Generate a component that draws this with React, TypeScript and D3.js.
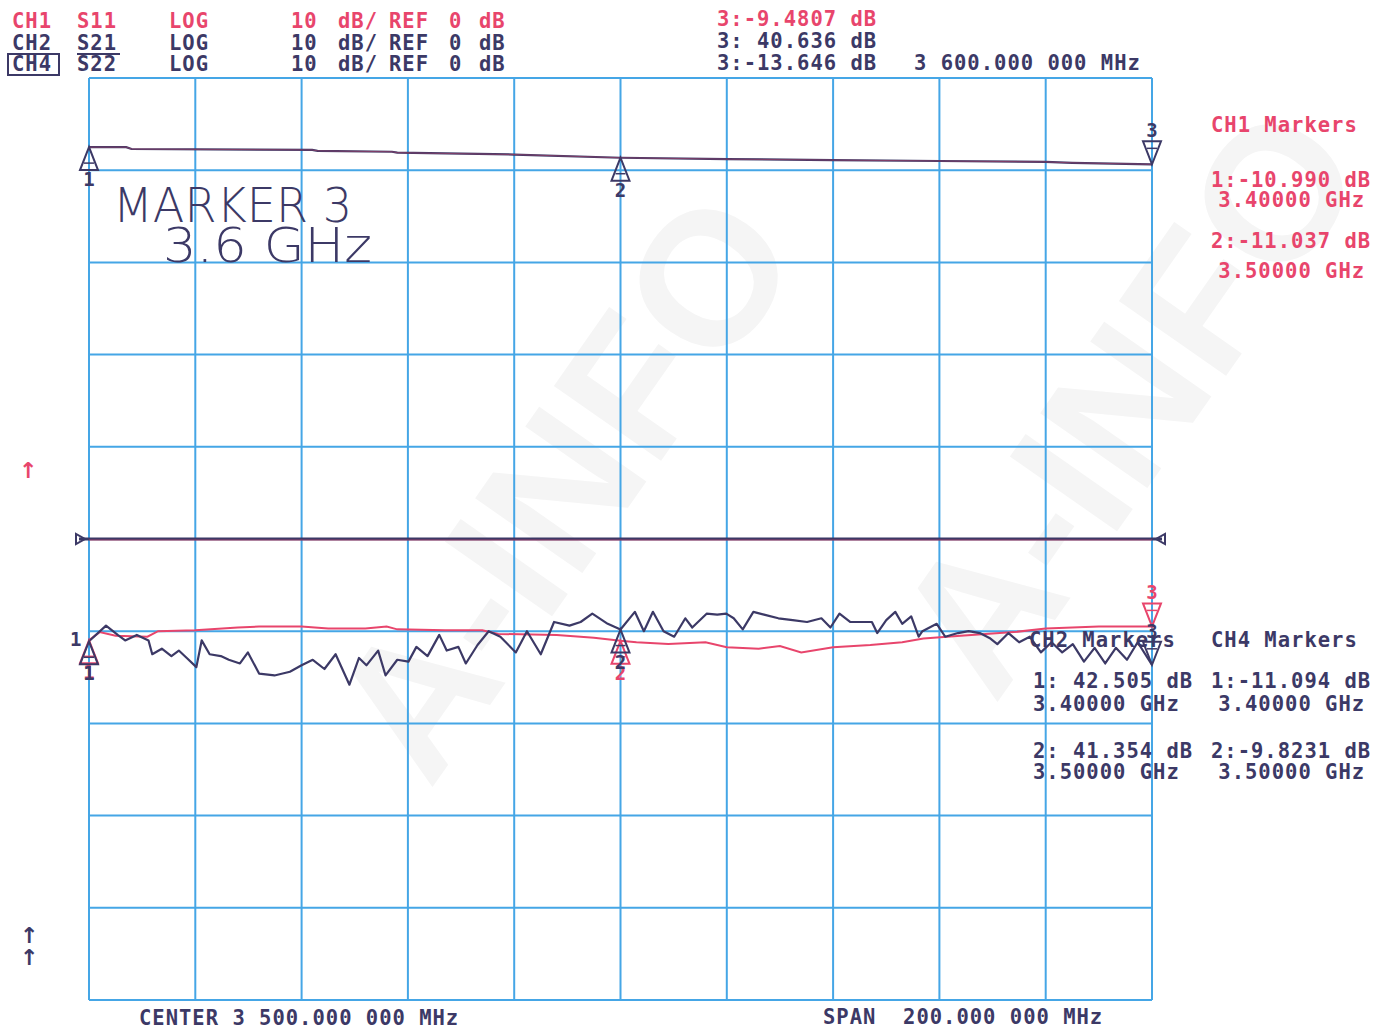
import * as d3 from 'd3';
import React from 'react';

// sweep: 3.4 .. 3.6 GHz, 10 dB/div, ref 0 dB at centre line
const startMHz = 3400;
const stopMHz = 3600;
const refDb = [-50, 50];

// CH2 S21 (upper trace)
const s21Freq = [3400, 3407, 3408, 3442, 3443, 3457, 3458, 3480, 3500, 3520, 3540, 3560, 3580, 3585, 3600];
const s21Db = [42.5, 42.5, 42.3, 42.2, 42.1, 42.0, 41.9, 41.7, 41.35, 41.2, 41.1, 41.0, 40.9, 40.8, 40.64];

// CH1 S11 (red)
const s11Freq = [3400, 3402, 3405, 3411, 3413, 3420, 3428, 3432, 3440, 3445, 3452, 3456, 3458, 3467, 3474, 3477, 3488, 3495, 3500, 3503, 3509, 3516, 3520, 3526, 3530, 3534, 3540, 3547, 3553, 3557, 3564, 3574, 3580, 3590, 3600];
const s11Db = [-10.99, -10.1, -10.5, -10.6, -10.0, -9.9, -9.6, -9.5, -9.5, -9.7, -9.7, -9.5, -9.8, -9.9, -9.9, -10.3, -10.4, -10.7, -11.04, -11.2, -11.4, -11.2, -11.75, -11.9, -11.6, -12.3, -11.75, -11.5, -11.2, -10.8, -10.5, -10.1, -9.7, -9.5, -9.48];

// CH4 S22 (dark, noisy)
const s22Freq = [3400, 3403.2, 3405.4, 3406.8, 3409.0, 3411.2, 3411.9, 3413.7, 3415.5, 3416.9, 3418.4, 3420.2, 3421.2, 3422.7, 3424.8, 3426.3, 3428.4, 3429.9, 3432.0, 3434.9, 3437.8, 3440.0, 3442.1, 3444.3, 3446.4, 3449.0, 3450.8, 3452.2, 3454.4, 3455.8, 3458.0, 3460.1, 3461.6, 3463.7, 3465.9, 3467.3, 3469.5, 3470.9, 3473.1, 3475.2, 3477.4, 3480.3, 3482.4, 3485.0, 3487.5, 3490.4, 3492.5, 3494.7, 3497.6, 3500, 3502.7, 3504.4, 3506.1, 3508.1, 3510.1, 3512.2, 3513.5, 3516.2, 3518.2, 3519.9, 3521.3, 3523.0, 3525.0, 3527.0, 3529.7, 3532.4, 3535.1, 3537.8, 3539.5, 3541.2, 3543.2, 3547.3, 3548.3, 3550.0, 3551.7, 3553.0, 3554.7, 3556.1, 3556.8, 3559.5, 3561.1, 3563.5, 3565.5, 3567.6, 3569.6, 3570.9, 3573.0, 3575.0, 3577.0, 3579.1, 3581.1, 3583.1, 3585.1, 3587.2, 3589.2, 3591.2, 3593.2, 3595.3, 3597.3, 3600];
const s22Db = [-11.09, -9.4, -10.4, -11.0, -10.4, -11.0, -12.5, -11.9, -12.7, -12.1, -12.9, -13.9, -11.0, -12.5, -12.7, -13.1, -13.5, -12.3, -14.6, -14.8, -14.4, -13.7, -13.1, -14.1, -12.5, -15.8, -12.9, -13.7, -12.1, -14.8, -13.1, -13.3, -11.7, -12.7, -10.4, -12.1, -11.7, -13.5, -11.5, -10.0, -10.6, -12.3, -10.0, -12.5, -9.0, -9.4, -9.0, -8.1, -9.2, -9.82, -7.9, -10.0, -7.9, -10.0, -10.6, -8.6, -9.6, -8.1, -8.2, -8.1, -8.6, -9.8, -7.9, -8.2, -8.6, -8.8, -9.0, -8.6, -9.6, -8.1, -9.0, -9.0, -10.2, -8.8, -7.9, -9.2, -8.4, -10.6, -10.0, -9.2, -10.6, -10.2, -10.0, -10.2, -10.8, -11.4, -10.2, -11.2, -10.6, -12.3, -11.2, -12.3, -11.4, -13.3, -11.8, -13.5, -11.8, -13.1, -11.2, -13.65];

// markers
const markerFreq = [3400, 3500, 3600];
const markerIds = ['1', '2', '3'];
const s11Mk = [-10.99, -11.037, -9.4807];
const s21Mk = [42.505, 41.354, 40.636];
const s22Mk = [-11.094, -9.8231, -13.646];

const RED = '#e8456c';
const DARK = '#3c3966';
const GRID = '#45a6e6';
const MONO = '"DejaVu Sans Mono", monospace';

type P = [number, number];

const zip = (f: number[], v: number[]): P[] => f.map((d, i) => [d, v[i]]);

const App: React.FC = () => {
    const width = 1386;
    const height = 1030;
    const left = 89, right = 1152, top = 78, bottom = 1000;

    const x = d3.scaleLinear().domain([startMHz, stopMHz]).range([left, right]);
    const y = d3.scaleLinear().domain(refDb).range([bottom, top]);

    const line = d3
        .line<P>()
        .x((d) => x(d[0]))
        .y((d) => y(d[1]));

    const xTicks = d3.range(startMHz, stopMHz + 1, 20);
    const yTicks = d3.range(refDb[0], refDb[1] + 1, 10);

    // marker triangle: up = apex on trace, label below; down = tip on trace, label above
    const Tri = ({ f, v, up, color, label }: { f: number; v: number; up: boolean; color: string; label: string }) => {
        const cx = x(f);
        const cy = y(v);
        const h = 23, hw = 9;
        const pts = up
            ? `${cx},${cy} ${cx - hw},${cy + h} ${cx + hw},${cy + h}`
            : `${cx},${cy} ${cx - hw},${cy - h} ${cx + hw},${cy - h}`;
        return (
            <g>
                <polygon points={pts} fill="none" stroke={color} strokeWidth={2} />
                <line x1={cx - 5} x2={cx + 5} y1={up ? cy + h - 7 : cy - h + 7} y2={up ? cy + h - 7 : cy - h + 7} stroke={color} strokeWidth={1.5} />
                <text x={cx} y={up ? cy + h + 16 : cy - h - 4} fill={color} fontFamily={MONO} fontWeight="bold" fontSize={19} textAnchor="middle">
                    {label}
                </text>
            </g>
        );
    };

    const txt = (s: string, tx: number, ty: number, color: string, size = 20.5, family = MONO) => (
        <text key={`${s}-${tx}-${ty}`} x={tx} y={ty} fill={color} fontFamily={family} fontWeight="bold" fontSize={size} letterSpacing={1} style={{ whiteSpace: 'pre' }}>
            {s}
        </text>
    );

    const watermarks: P[] = [[805, 255], [1370, 170]];

    return (
        <svg width={width} height={height} style={{ position: 'absolute', left: 0, top: 0, background: '#fff' }}>
            <rect width={width} height={height} fill="#fff" />
            {/* faint watermark */}
            <g fill="#f5f5f5" fontFamily="Liberation Sans, sans-serif" fontWeight="bold" fontSize={190}>
                {watermarks.map(([wx, wy], i) => (
                    <text key={i} x={wx} y={wy} textAnchor="end" transform={`rotate(-55 ${wx} ${wy})`}>
                        A-INFO
                    </text>
                ))}
            </g>

            {/* grid */}
            <g stroke={GRID} strokeWidth={2}>
                {xTicks.map((t) => (
                    <line key={`v${t}`} x1={x(t)} x2={x(t)} y1={top} y2={bottom} />
                ))}
                {yTicks.map((t) => (
                    <line key={`h${t}`} x1={left} x2={right} y1={y(t)} y2={y(t)} />
                ))}
            </g>

            {/* reference line */}
            <line x1={x(startMHz) - 10} x2={x(stopMHz) + 10} y1={y(0)} y2={y(0)} stroke={DARK} strokeWidth={3} />
            <line x1={x(startMHz)} x2={x(stopMHz)} y1={y(0) + 1} y2={y(0) + 1} stroke={RED} strokeWidth={1} opacity={0.5} />
            <polygon points={`${x(startMHz) - 13},${y(0) - 5} ${x(startMHz) - 13},${y(0) + 5} ${x(startMHz) - 4},${y(0)}`} fill="none" stroke={DARK} strokeWidth={2} />
            <polygon points={`${x(stopMHz) + 13},${y(0) - 5} ${x(stopMHz) + 13},${y(0) + 5} ${x(stopMHz) + 4},${y(0)}`} fill="none" stroke={DARK} strokeWidth={2} />

            {/* traces */}
            <path d={line(zip(s21Freq, s21Db)) ?? ''} fill="none" stroke={DARK} strokeWidth={2.2} />
            <path d={line(zip(s21Freq, s21Db)) ?? ''} fill="none" stroke={RED} strokeWidth={0.8} opacity={0.5} />
            <path d={line(zip(s11Freq, s11Db)) ?? ''} fill="none" stroke={RED} strokeWidth={2} />
            <path d={line(zip(s22Freq, s22Db)) ?? ''} fill="none" stroke={DARK} strokeWidth={2.2} strokeLinejoin="round" />

            {/* markers */}
            {markerFreq.map((f, i) => (
                <Tri key={`m21${i}`} f={f} v={s21Mk[i]} up={i < 2} color={DARK} label={markerIds[i]} />
            ))}
            {markerFreq.map((f, i) => (
                <Tri key={`m11${i}`} f={f} v={s11Mk[i]} up={i < 2} color={RED} label={markerIds[i]} />
            ))}
            {markerFreq.map((f, i) => (
                <Tri key={`m22${i}`} f={f} v={s22Mk[i]} up={i < 2} color={DARK} label={markerIds[i]} />
            ))}
            {txt('1', 70, 646, DARK, 19)}

            {/* header */}
            {txt('CH1', 12, 28, RED)}
            {txt('S11', 77, 28, RED)}
            {txt('LOG', 169, 28, RED)}
            {txt('10', 291, 28, RED)}
            {txt('dB/', 338, 28, RED)}
            {txt('REF', 389, 28, RED)}
            {txt('0', 449, 28, RED)}
            {txt('dB', 479, 28, RED)}

            {txt('CH2', 12, 50, DARK)}
            {txt('S21', 77, 50, DARK)}
            {txt('LOG', 169, 50, DARK)}
            {txt('10', 291, 50, DARK)}
            {txt('dB/', 338, 50, DARK)}
            {txt('REF', 389, 50, DARK)}
            {txt('0', 449, 50, DARK)}
            {txt('dB', 479, 50, DARK)}
            <line x1={10} x2={58} y1={54} y2={54} stroke={DARK} strokeWidth={2} />
            <line x1={77} x2={120} y1={54} y2={54} stroke={DARK} strokeWidth={2} />

            <rect x={8} y={54} width={51} height={21} fill="none" stroke={DARK} strokeWidth={2} />
            {txt('CH4', 12, 71, DARK)}
            {txt('S22', 77, 71, DARK)}
            {txt('LOG', 169, 71, DARK)}
            {txt('10', 291, 71, DARK)}
            {txt('dB/', 338, 71, DARK)}
            {txt('REF', 389, 71, DARK)}
            {txt('0', 449, 71, DARK)}
            {txt('dB', 479, 71, DARK)}

            {txt('3:-9.4807 dB', 717, 26, RED)}
            {txt('3: 40.636 dB', 717, 48, DARK)}
            {txt('3:-13.646 dB', 717, 70, DARK)}
            {txt('3 600.000 000 MHz', 914, 70, DARK)}

            {/* marker tables */}
            {txt('CH1 Markers', 1211, 132, RED)}
            {txt('1:-10.990 dB', 1211, 187, RED)}
            {txt(' 3.40000 GHz', 1205, 207, RED)}
            {txt('2:-11.037 dB', 1211, 248, RED)}
            {txt(' 3.50000 GHz', 1205, 278, RED)}

            {txt('CH2 Markers', 1029, 647, DARK)}
            {txt('1: 42.505 dB', 1033, 688, DARK)}
            {txt('3.40000 GHz', 1033, 711, DARK)}
            {txt('2: 41.354 dB', 1033, 758, DARK)}
            {txt('3.50000 GHz', 1033, 779, DARK)}

            {txt('CH4 Markers', 1211, 647, DARK)}
            {txt('1:-11.094 dB', 1211, 688, DARK)}
            {txt(' 3.40000 GHz', 1205, 711, DARK)}
            {txt('2:-9.8231 dB', 1211, 758, DARK)}
            {txt(' 3.50000 GHz', 1205, 779, DARK)}

            {/* annotation */}
            <text x={113} y={222} fill={DARK} fontFamily="DejaVu Sans, sans-serif" fontWeight={200} fontSize={48} textLength={239} lengthAdjust="spacingAndGlyphs">
                MARKER 3
            </text>
            <text x={163} y={262} fill={DARK} fontFamily="DejaVu Sans, sans-serif" fontWeight={200} fontSize={48} textLength={209} lengthAdjust="spacingAndGlyphs">
                3.6 GHz
            </text>

            {/* scale arrows */}
            {txt('↑', 19, 478, RED, 22, 'DejaVu Sans, sans-serif')}
            {txt('↑', 20, 943, DARK, 22, 'DejaVu Sans, sans-serif')}
            {txt('↑', 20, 965, DARK, 22, 'DejaVu Sans, sans-serif')}

            {/* footer */}
            {txt('CENTER 3 500.000 000 MHz', 139, 1025, DARK)}
            {txt('SPAN  200.000 000 MHz', 823, 1024, DARK)}
        </svg>
    );
};

export default App;
